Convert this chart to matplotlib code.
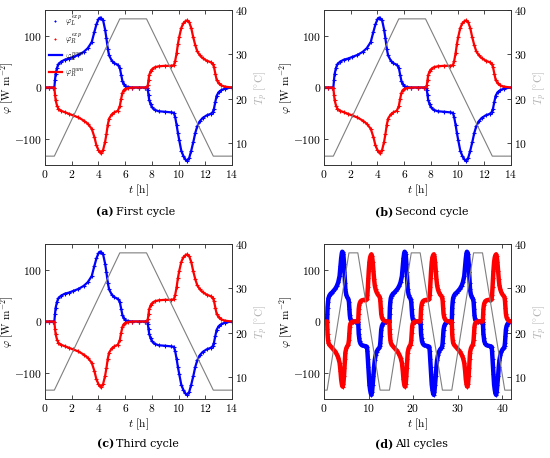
import numpy as np
import matplotlib
matplotlib.use("Agg")
import matplotlib.pyplot as plt
from matplotlib.ticker import FuncFormatter

plt.rcParams['mathtext.fontset'] = 'cm'
plt.rcParams['font.family'] = ['DejaVu Serif']

# one measurement cycle (hours, W/m2)
t_cyc = [0, 0.3, 0.6, 0.7, 0.75, 0.8, 0.9, 1.0, 1.2, 1.5, 1.8, 2.1, 2.5, 2.9, 3.2,
         3.5, 3.7, 3.85, 4.0, 4.1, 4.2, 4.35, 4.5, 4.6, 4.7, 4.8, 5.0, 5.2, 5.45,
         5.6, 5.7, 5.8, 5.9, 6.0, 6.2, 6.5, 7.0, 7.5, 7.65, 7.7, 7.75, 7.8, 7.9,
         8.0, 8.2, 8.5, 9.0, 9.4, 9.65, 9.75, 9.85, 9.95, 10.05, 10.2, 10.35, 10.5,
         10.65, 10.8, 10.95, 11.1, 11.25, 11.4, 11.6, 11.8, 12.1, 12.4, 12.55,
         12.65, 12.75, 12.85, 13.0, 13.2, 13.5, 14.0]
phi_L = [0, 0, 0, 0, 15, 27, 38, 45, 50, 54, 56, 59, 63, 69, 76,
         88, 108, 122, 132, 135, 134, 130, 112, 95, 75, 62, 52, 47, 44,
         38, 25, 12, 6, 3, 1, 0, 0, 0, 0, -5, -15, -24, -32,
         -38, -43, -46, -47, -48, -49, -58, -72, -88, -102, -122, -132, -139,
         -142, -136, -122, -106, -88, -75, -65, -59, -54, -51, -48,
         -41, -28, -16, -9, -5, -2, 0]
phi_R = [0, 0, 0, 0, -14, -25, -35, -41, -45, -48, -51, -54, -58, -64, -70,
         -80, -96, -112, -121, -125, -126, -121, -105, -90, -72, -60, -52, -48, -45,
         -36, -22, -10, -5, -3, -1, 0, 0, 0, 0, 5, 15, 24, 31,
         35, 39, 41, 42, 42, 43, 52, 66, 84, 98, 115, 124, 128,
         130, 126, 115, 97, 82, 70, 62, 57, 52, 49, 46,
         40, 27, 15, 8, 4, 1.5, 0]
t_T = [0, 0.7, 5.6, 7.6, 12.6, 14]
T_p = [7, 7, 38, 38, 7, 7]

cycle_len = 14
n_cycles = 3

blue = '#0000ff'
red = '#ff0000'
grey = '#7f7f7f'

fig = plt.figure(figsize=(5.5, 4.58), dpi=100)
boxes = [
    [45 / 550, 1 - 165 / 458, 187 / 550, 155 / 458],
    [324 / 550, 1 - 165 / 458, 187 / 550, 155 / 458],
    [45 / 550, 1 - 399 / 458, 187 / 550, 155 / 458],
    [324 / 550, 1 - 399 / 458, 187 / 550, 155 / 458],
]
captions = [("(a)", "First cycle"), ("(b)", "Second cycle"),
            ("(c)", "Third cycle"), ("(d)", "All cycles")]
cap_y = [1 - 212 / 458, 1 - 212 / 458, 1 - 444 / 458, 1 - 444 / 458]

fmt = FuncFormatter(lambda v, p: r"$%d$" % v)
fs = 8.3

for i, box in enumerate(boxes):
    ax = fig.add_axes(box)
    if i < 3:
        t = np.array(t_cyc)
        L = np.array(phi_L)
        R = np.array(phi_R)
        tT = np.array(t_T)
        TT = np.array(T_p)
        xmax = 14
        xt = np.arange(0, 15, 2)
        ms, mew, lw = 3.5, 0.8, 1.6
    else:
        t = np.concatenate([np.array(t_cyc) + k * cycle_len for k in range(n_cycles)])
        L = np.tile(phi_L, n_cycles)
        R = np.tile(phi_R, n_cycles)
        tT = np.concatenate([np.array(t_T) + k * cycle_len for k in range(n_cycles)])
        TT = np.tile(T_p, n_cycles)
        xmax = 42
        xt = np.arange(0, 41, 10)
        ms, mew, lw = 3.0, 0.8, 3.2

    ax.plot(t, L, '+', color=blue, ms=ms, mew=mew, label=r"$\varphi_L^{exp}$")
    ax.plot(t, R, '+', color=red, ms=ms, mew=mew, label=r"$\varphi_R^{exp}$")
    ax.plot(t, L, '-', color=blue, lw=lw, label=r"$\varphi_L^{num}$")
    ax.plot(t, R, '-', color=red, lw=lw, label=r"$\varphi_R^{num}$")
    ax.set_xlim(0, xmax)
    ax.set_ylim(-150, 150)
    ax.set_xticks(xt)
    ax.set_yticks([-100, 0, 100])
    ax.xaxis.set_major_formatter(fmt)
    ax.yaxis.set_major_formatter(fmt)
    ax.tick_params(direction='in', length=3, width=0.5, labelsize=fs, pad=2, top=True)
    ax.set_xlabel(r"$t\ [\mathrm{h}]$", fontsize=fs, labelpad=1)
    ax.set_ylabel(r"$\varphi\ [\mathrm{W\ m^{-2}}]$", fontsize=8, labelpad=-1)
    for s in ax.spines.values():
        s.set_linewidth(0.6)
        s.set_color('#333333')

    if i == 0:
        leg = ax.legend(loc='upper left', frameon=False, fontsize=6, handlelength=1.5,
                        borderaxespad=0.1, labelspacing=0.5, handletextpad=0.4,
                        markerscale=0.6)
        for h in leg.legend_handles[2:]:
            h.set_linewidth(1.6)

    ax2 = ax.twinx()
    ax2.plot(tT, TT, '-', color=grey, lw=0.8)
    ax2.set_ylim(5, 40)
    ax2.set_yticks([10, 20, 30, 40])
    ax2.yaxis.set_major_formatter(fmt)
    ax2.tick_params(direction='in', length=3, width=0.5, labelsize=fs, pad=2)
    ax2.set_ylabel(r"$T_p\ [^{\circ}\mathrm{C}]$", fontsize=8, color='#b0b0b0', labelpad=3)
    for s in ax2.spines.values():
        s.set_linewidth(0.6)
        s.set_color('#333333')

    xc = box[0] + box[2] / 2
    tag, txt = captions[i]
    fig.text(xc - 0.045, cap_y[i], tag, ha='right', va='center', fontsize=8,
             fontweight='bold', family='DejaVu Serif')
    fig.text(xc - 0.041, cap_y[i], txt, ha='left', va='center', fontsize=8,
             family='DejaVu Serif')

fig.savefig("out.png", dpi=100)
